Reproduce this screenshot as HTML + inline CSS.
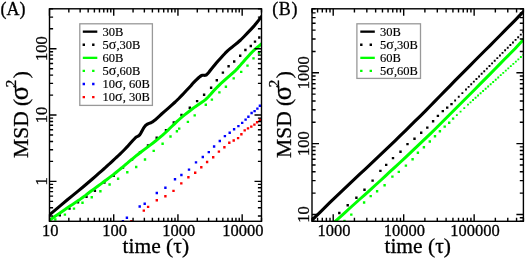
<!DOCTYPE html>
<html><head><meta charset="utf-8"><style>
html,body{margin:0;padding:0;background:#fff;width:525px;height:258px;overflow:hidden;position:relative}
</style></head><body>
<svg width="525" height="258" viewBox="0 0 525 258" style="position:absolute;left:0;top:0;will-change:transform" font-family='"Liberation Serif", serif' fill="#000"><style>text.t{stroke:#000;stroke-width:0.3px}text.l{stroke:#000;stroke-width:0.15px}</style><defs><clipPath id="ca"><rect x="49.5" y="8.8" width="212.0" height="212.5"/></clipPath><clipPath id="cb"><rect x="312.0" y="8.8" width="211.39999999999998" height="212.5"/></clipPath></defs><g clip-path="url(#ca)"><polyline points="40.0,222.6 41.5,221.4 43.6,219.6 46.3,217.4 49.5,214.8 53.3,211.6 57.8,207.9 62.5,203.9 67.4,199.8 72.5,195.6 78.0,191.1 83.3,186.7 88.0,182.8 92.1,179.3 95.7,176.1 99.0,173.2 101.7,170.8 103.8,169.0 105.3,167.7 106.5,166.5 108.0,165.2 109.7,163.7 111.4,162.1 113.2,160.4 115.2,158.5 117.4,156.5 119.7,154.3 122.1,152.0 124.6,149.5 127.3,146.7 130.1,143.5 132.8,140.5 135.0,138.2 136.5,136.9 137.6,136.4 138.6,135.9 139.7,134.8 141.0,132.8 142.4,130.2 143.9,127.6 145.5,125.5 147.2,124.2 149.1,123.4 151.0,122.7 153.0,121.6 155.0,120.1 156.9,118.3 159.1,116.3 161.6,114.0 164.6,111.4 168.1,108.4 171.7,105.2 175.2,102.0 178.8,98.5 182.5,94.7 185.9,91.0 188.8,88.0 190.9,85.8 192.3,84.1 193.6,82.6 195.0,81.2 196.6,79.6 198.3,78.0 199.9,76.6 201.4,75.6 202.7,75.2 203.9,75.3 205.0,75.4 206.2,75.0 207.4,73.9 208.7,72.5 210.0,70.8 211.4,69.0 213.0,67.1 214.7,65.0 216.5,62.8 218.5,60.5 220.6,58.2 222.8,55.7 225.2,53.2 227.8,50.7 230.7,48.2 233.9,45.6 237.2,43.0 240.6,40.0 244.1,36.5 247.8,32.7 251.4,28.9 254.4,25.6 256.7,22.8 258.6,20.4 260.2,18.2 262.0,16.0 264.2,13.7 266.5,11.4 268.6,9.4 270.0,8.0" fill="none" stroke="#000" stroke-width="3.1" stroke-linejoin="round" stroke-linecap="butt"/><path d="M58.60 214.20h2.4v2.4h-2.4zM68.30 207.40h2.4v2.4h-2.4zM76.80 201.10h2.4v2.4h-2.4zM85.30 195.60h2.4v2.4h-2.4zM93.70 189.60h2.4v2.4h-2.4zM103.20 181.40h2.4v2.4h-2.4zM112.50 174.70h2.4v2.4h-2.4zM121.80 166.40h2.4v2.4h-2.4zM130.80 158.40h2.4v2.4h-2.4zM138.80 151.30h2.4v2.4h-2.4zM146.80 144.20h2.4v2.4h-2.4zM155.50 136.50h2.4v2.4h-2.4zM164.80 129.10h2.4v2.4h-2.4zM172.60 121.30h2.4v2.4h-2.4zM180.30 113.70h2.4v2.4h-2.4zM188.60 106.60h2.4v2.4h-2.4zM195.90 99.90h2.4v2.4h-2.4zM202.90 93.50h2.4v2.4h-2.4zM209.90 86.50h2.4v2.4h-2.4zM215.60 79.00h2.4v2.4h-2.4zM221.70 71.40h2.4v2.4h-2.4zM227.40 65.00h2.4v2.4h-2.4zM233.00 60.30h2.4v2.4h-2.4zM239.00 54.50h2.4v2.4h-2.4zM244.20 48.80h2.4v2.4h-2.4zM249.60 44.80h2.4v2.4h-2.4zM253.80 40.40h2.4v2.4h-2.4zM258.10 36.30h2.4v2.4h-2.4z" fill="#000"/><polyline points="40.0,226.8 41.7,225.6 44.1,223.9 46.8,222.0 49.5,220.2 52.1,218.4 54.7,216.6 57.4,214.8 60.0,213.0 62.5,211.2 65.0,209.5 67.5,207.7 70.0,206.0 72.5,204.4 75.0,202.8 77.4,201.1 80.0,199.4 82.6,197.5 85.2,195.6 87.9,193.5 90.8,191.3 94.1,188.9 97.7,186.2 101.3,183.6 104.4,181.3 106.9,179.5 109.0,177.9 111.0,176.4 113.3,174.7 116.0,172.5 118.9,170.1 121.8,167.8 124.3,165.7 126.1,164.1 127.6,162.9 129.0,161.7 130.8,160.2 133.1,158.3 135.7,156.2 138.5,154.0 141.3,151.8 144.2,149.6 147.2,147.4 150.2,145.1 153.0,143.0 155.5,141.0 157.9,139.1 160.2,137.2 162.6,135.2 165.0,133.0 167.5,130.7 169.9,128.3 172.3,126.0 174.6,123.8 176.8,121.7 179.2,119.5 181.8,117.2 184.9,114.7 188.3,112.0 191.8,109.3 195.0,106.9 197.8,105.0 200.4,103.3 202.9,101.6 205.5,99.6 208.2,97.0 210.9,94.1 213.5,91.1 215.9,88.5 218.0,86.4 219.8,84.6 221.6,82.8 223.8,80.8 226.6,78.3 229.8,75.6 232.9,72.8 235.7,70.3 237.8,68.1 239.6,66.1 241.3,64.1 243.2,62.0 245.3,59.6 247.6,57.0 249.9,54.4 252.2,52.0 254.6,49.7 257.2,47.5 259.7,45.4 262.0,43.4 264.3,41.3 266.6,39.2 268.6,37.3 270.0,36.0" fill="none" stroke="#00ff00" stroke-width="3.0" stroke-linejoin="round" stroke-linecap="butt"/><path d="M54.10 218.30h2.4v2.4h-2.4zM63.70 213.40h2.4v2.4h-2.4zM72.80 207.40h2.4v2.4h-2.4zM81.30 201.60h2.4v2.4h-2.4zM90.55 196.10h2.4v2.4h-2.4zM99.20 190.05h2.4v2.4h-2.4zM108.40 183.30h2.4v2.4h-2.4zM116.90 177.50h2.4v2.4h-2.4zM126.10 171.10h2.4v2.4h-2.4zM135.00 165.80h2.4v2.4h-2.4zM143.80 158.30h2.4v2.4h-2.4zM152.50 149.70h2.4v2.4h-2.4zM161.40 142.50h2.4v2.4h-2.4zM169.30 135.30h2.4v2.4h-2.4zM175.70 130.00h2.4v2.4h-2.4zM178.00 127.40h2.4v2.4h-2.4zM186.70 120.70h2.4v2.4h-2.4zM193.50 114.20h2.4v2.4h-2.4zM204.60 103.60h2.4v2.4h-2.4zM210.70 98.40h2.4v2.4h-2.4zM218.20 91.20h2.4v2.4h-2.4zM224.70 85.60h2.4v2.4h-2.4zM232.50 77.20h2.4v2.4h-2.4zM240.00 70.70h2.4v2.4h-2.4zM246.30 64.40h2.4v2.4h-2.4zM252.30 57.20h2.4v2.4h-2.4zM257.80 52.00h2.4v2.4h-2.4z" fill="#00ff00"/><path d="M121.70 220.00h2.4v2.4h-2.4zM125.70 216.60h2.4v2.4h-2.4zM138.50 205.30h2.4v2.4h-2.4zM143.50 202.60h2.4v2.4h-2.4zM155.60 191.80h2.4v2.4h-2.4zM164.20 186.50h2.4v2.4h-2.4zM173.80 178.00h2.4v2.4h-2.4zM180.20 173.80h2.4v2.4h-2.4zM187.80 168.40h2.4v2.4h-2.4zM194.80 161.20h2.4v2.4h-2.4zM201.60 155.80h2.4v2.4h-2.4zM207.60 150.90h2.4v2.4h-2.4zM212.90 145.30h2.4v2.4h-2.4zM218.60 139.80h2.4v2.4h-2.4zM223.70 134.90h2.4v2.4h-2.4zM228.50 131.60h2.4v2.4h-2.4zM232.90 128.10h2.4v2.4h-2.4zM237.20 124.90h2.4v2.4h-2.4zM241.00 121.70h2.4v2.4h-2.4zM244.40 118.40h2.4v2.4h-2.4zM247.20 115.50h2.4v2.4h-2.4zM250.40 111.80h2.4v2.4h-2.4zM253.40 109.90h2.4v2.4h-2.4zM256.20 107.40h2.4v2.4h-2.4zM258.70 104.60h2.4v2.4h-2.4z" fill="#0000ff"/><path d="M130.20 220.00h2.4v2.4h-2.4zM142.60 209.40h2.4v2.4h-2.4zM146.90 205.70h2.4v2.4h-2.4zM155.60 199.10h2.4v2.4h-2.4zM164.20 195.00h2.4v2.4h-2.4zM172.30 189.70h2.4v2.4h-2.4zM180.10 182.20h2.4v2.4h-2.4zM187.20 176.00h2.4v2.4h-2.4zM194.00 171.60h2.4v2.4h-2.4zM200.10 166.00h2.4v2.4h-2.4zM205.90 160.80h2.4v2.4h-2.4zM212.00 156.10h2.4v2.4h-2.4zM217.70 150.40h2.4v2.4h-2.4zM223.20 146.00h2.4v2.4h-2.4zM228.10 141.50h2.4v2.4h-2.4zM232.50 139.30h2.4v2.4h-2.4zM236.90 136.90h2.4v2.4h-2.4zM240.20 133.10h2.4v2.4h-2.4zM243.50 129.20h2.4v2.4h-2.4zM246.80 127.20h2.4v2.4h-2.4zM250.10 125.40h2.4v2.4h-2.4zM253.20 123.40h2.4v2.4h-2.4zM255.90 121.10h2.4v2.4h-2.4zM258.70 118.60h2.4v2.4h-2.4z" fill="#ff0000"/></g><rect x="49.5" y="8.8" width="212.00" height="212.50" fill="none" stroke="#000" stroke-width="1.4"/><path d="M49.50 221.3v-7.0M49.50 8.8v7.0M68.83 221.3v-3.6M68.83 8.8v3.6M80.14 221.3v-3.6M80.14 8.8v3.6M88.17 221.3v-3.6M88.17 8.8v3.6M94.39 221.3v-3.6M94.39 8.8v3.6M99.47 221.3v-3.6M99.47 8.8v3.6M103.77 221.3v-3.6M103.77 8.8v3.6M107.50 221.3v-3.6M107.50 8.8v3.6M110.78 221.3v-3.6M110.78 8.8v3.6M113.72 221.3v-7.0M113.72 8.8v7.0M133.06 221.3v-3.6M133.06 8.8v3.6M144.36 221.3v-3.6M144.36 8.8v3.6M152.39 221.3v-3.6M152.39 8.8v3.6M158.61 221.3v-3.6M158.61 8.8v3.6M163.70 221.3v-3.6M163.70 8.8v3.6M168.00 221.3v-3.6M168.00 8.8v3.6M171.72 221.3v-3.6M171.72 8.8v3.6M175.01 221.3v-3.6M175.01 8.8v3.6M177.94 221.3v-7.0M177.94 8.8v7.0M197.28 221.3v-3.6M197.28 8.8v3.6M208.59 221.3v-3.6M208.59 8.8v3.6M216.61 221.3v-3.6M216.61 8.8v3.6M222.83 221.3v-3.6M222.83 8.8v3.6M227.92 221.3v-3.6M227.92 8.8v3.6M232.22 221.3v-3.6M232.22 8.8v3.6M235.94 221.3v-3.6M235.94 8.8v3.6M239.23 221.3v-3.6M239.23 8.8v3.6M242.17 221.3v-7.0M242.17 8.8v7.0M261.50 221.3v-3.6M261.50 8.8v3.6M49.5 216.05h3.6M261.5 216.05h-3.6M49.5 207.76h3.6M261.5 207.76h-3.6M49.5 201.34h3.6M261.5 201.34h-3.6M49.5 196.08h3.6M261.5 196.08h-3.6M49.5 191.64h3.6M261.5 191.64h-3.6M49.5 187.80h3.6M261.5 187.80h-3.6M49.5 184.41h3.6M261.5 184.41h-3.6M49.5 181.37h7.0M261.5 181.37h-7.0M49.5 161.41h3.6M261.5 161.41h-3.6M49.5 149.73h3.6M261.5 149.73h-3.6M49.5 141.44h3.6M261.5 141.44h-3.6M49.5 135.01h3.6M261.5 135.01h-3.6M49.5 129.76h3.6M261.5 129.76h-3.6M49.5 125.32h3.6M261.5 125.32h-3.6M49.5 121.48h3.6M261.5 121.48h-3.6M49.5 118.08h3.6M261.5 118.08h-3.6M49.5 115.05h7.0M261.5 115.05h-7.0M49.5 95.09h3.6M261.5 95.09h-3.6M49.5 83.41h3.6M261.5 83.41h-3.6M49.5 75.12h3.6M261.5 75.12h-3.6M49.5 68.69h3.6M261.5 68.69h-3.6M49.5 63.44h3.6M261.5 63.44h-3.6M49.5 59.00h3.6M261.5 59.00h-3.6M49.5 55.16h3.6M261.5 55.16h-3.6M49.5 51.76h3.6M261.5 51.76h-3.6M49.5 48.73h7.0M261.5 48.73h-7.0M49.5 28.76h3.6M261.5 28.76h-3.6M49.5 17.09h3.6M261.5 17.09h-3.6M49.5 8.80h3.6M261.5 8.80h-3.6" stroke="#000" stroke-width="1.4" fill="none"/><rect x="79.8" y="23.8" width="72.60" height="81.60" fill="#fff" stroke="#999" stroke-width="1.3"/><rect x="82.8" y="30.50" width="14.5" height="2.3" fill="#000"/><text class="l" x="102.6" y="35.70" font-size="12.5">30B</text><path d="M82.60 43.50h2.4v2.4h-2.4zM92.10 43.50h2.4v2.4h-2.4z" fill="#000"/><text class="l" x="102.6" y="48.80" font-size="12.5">5<tspan font-size="14">σ</tspan>,30B</text><rect x="82.8" y="56.70" width="14.5" height="2.3" fill="#00ff00"/><text class="l" x="102.6" y="61.90" font-size="12.5">60B</text><path d="M82.60 69.70h2.4v2.4h-2.4zM92.10 69.70h2.4v2.4h-2.4z" fill="#00ff00"/><text class="l" x="102.6" y="75.00" font-size="12.5">5<tspan font-size="14">σ</tspan>,60B</text><path d="M82.60 82.80h2.4v2.4h-2.4zM92.10 82.80h2.4v2.4h-2.4z" fill="#0000ff"/><text class="l" x="102.6" y="88.10" font-size="12.5">10<tspan font-size="14">σ</tspan>, 60B</text><path d="M82.60 95.90h2.4v2.4h-2.4zM92.10 95.90h2.4v2.4h-2.4z" fill="#ff0000"/><text class="l" x="102.6" y="101.20" font-size="12.5">10<tspan font-size="14">σ</tspan>, 30B</text><g clip-path="url(#cb)"><polyline points="300.0,231.9 305.0,227.2 310.0,222.2 315.0,217.2 320.0,212.3 325.0,207.4 330.0,202.4 335.0,197.6 340.0,192.9 345.0,188.1 350.0,183.3 355.0,178.6 360.0,173.9 365.0,169.3 370.0,164.7 375.0,159.9 380.0,155.2 385.0,150.4 390.0,145.6 395.0,140.8 400.0,135.9 405.0,131.1 410.0,126.1 415.0,121.2 420.0,116.3 425.0,111.4 430.0,106.2 435.0,101.1 440.0,96.0 445.0,90.9 450.0,85.8 455.0,80.6 460.0,75.6 465.0,70.6 470.0,65.6 475.0,60.5 480.0,55.5 485.0,50.5 490.0,45.6 495.0,40.5 500.0,35.5 505.0,30.4 510.0,25.3 515.0,20.3 520.0,15.1 525.0,10.0 530.0,4.9" fill="none" stroke="#000" stroke-width="3.1" stroke-linejoin="round" stroke-linecap="butt"/><path d="M338.10 211.80h2.4v2.4h-2.4zM346.50 204.00h2.4v2.4h-2.4zM355.20 196.50h2.4v2.4h-2.4zM363.30 188.50h2.4v2.4h-2.4zM371.40 179.40h2.4v2.4h-2.4zM379.20 169.70h2.4v2.4h-2.4zM385.00 163.70h2.4v2.4h-2.4zM391.80 156.90h2.4v2.4h-2.4zM399.30 150.60h2.4v2.4h-2.4zM406.30 142.90h2.4v2.4h-2.4zM413.30 137.50h2.4v2.4h-2.4zM420.00 131.60h2.4v2.4h-2.4zM426.10 126.40h2.4v2.4h-2.4zM431.90 120.00h2.4v2.4h-2.4zM436.70 114.70h2.4v2.4h-2.4zM441.60 109.90h2.4v2.4h-2.4zM446.00 106.40h2.4v2.4h-2.4zM450.30 102.90h2.4v2.4h-2.4z" fill="#000"/><path d="M454.18 99.50h1.9v1.9h-1.9zM457.80 95.85h1.9v1.9h-1.9zM461.43 92.20h1.9v1.9h-1.9zM465.05 88.55h1.9v1.9h-1.9zM467.66 85.94h1.9v1.9h-1.9zM470.27 83.32h1.9v1.9h-1.9zM472.88 80.71h1.9v1.9h-1.9zM475.49 78.10h1.9v1.9h-1.9zM478.10 75.48h1.9v1.9h-1.9zM480.70 72.87h1.9v1.9h-1.9zM483.31 70.25h1.9v1.9h-1.9zM485.92 67.64h1.9v1.9h-1.9zM488.53 65.03h1.9v1.9h-1.9zM491.14 62.41h1.9v1.9h-1.9zM493.75 59.80h1.9v1.9h-1.9zM496.36 57.19h1.9v1.9h-1.9zM498.97 54.57h1.9v1.9h-1.9zM501.58 51.96h1.9v1.9h-1.9zM504.19 49.35h1.9v1.9h-1.9zM506.80 46.73h1.9v1.9h-1.9zM509.40 44.12h1.9v1.9h-1.9zM512.01 41.50h1.9v1.9h-1.9zM514.62 38.89h1.9v1.9h-1.9zM517.23 36.28h1.9v1.9h-1.9zM519.84 33.66h1.9v1.9h-1.9zM522.45 31.05h1.9v1.9h-1.9z" fill="#000"/><polyline points="320.0,235.0 325.0,230.7 330.0,226.2 335.0,221.6 340.0,217.1 345.0,212.6 350.0,208.0 355.0,203.5 360.0,199.0 365.0,194.6 370.0,190.1 375.0,185.5 380.0,181.0 385.0,176.4 390.0,171.7 395.0,167.1 400.0,162.5 405.0,157.8 410.0,153.1 415.0,148.4 420.0,143.7 425.0,138.9 430.0,134.1 435.0,129.2 440.0,124.2 445.0,119.3 450.0,114.3 455.0,109.2 460.0,104.2 465.0,99.2 470.0,94.2 475.0,89.2 480.0,84.1 485.0,79.1 490.0,74.1 495.0,69.0 500.0,63.9 505.0,58.8 510.0,53.8 515.0,48.7 520.0,43.3 525.0,37.9 530.0,32.5" fill="none" stroke="#00ff00" stroke-width="3.0" stroke-linejoin="round" stroke-linecap="butt"/><path d="M343.30 219.80h2.4v2.4h-2.4zM350.10 213.40h2.4v2.4h-2.4zM362.90 201.30h2.4v2.4h-2.4zM369.50 194.90h2.4v2.4h-2.4zM375.90 190.10h2.4v2.4h-2.4zM383.40 184.10h2.4v2.4h-2.4zM391.20 175.40h2.4v2.4h-2.4zM397.60 170.70h2.4v2.4h-2.4zM404.70 164.40h2.4v2.4h-2.4zM411.40 158.10h2.4v2.4h-2.4zM416.70 151.60h2.4v2.4h-2.4zM422.70 146.10h2.4v2.4h-2.4zM428.60 140.30h2.4v2.4h-2.4zM433.80 135.10h2.4v2.4h-2.4zM438.70 130.00h2.4v2.4h-2.4zM443.50 125.40h2.4v2.4h-2.4zM448.00 121.50h2.4v2.4h-2.4zM451.90 117.40h2.4v2.4h-2.4z" fill="#00ff00"/><path d="M455.88 114.15h1.9v1.9h-1.9zM459.60 110.65h1.9v1.9h-1.9zM463.32 107.15h1.9v1.9h-1.9zM467.05 103.65h1.9v1.9h-1.9zM469.57 101.39h1.9v1.9h-1.9zM472.09 99.12h1.9v1.9h-1.9zM474.60 96.86h1.9v1.9h-1.9zM477.12 94.60h1.9v1.9h-1.9zM479.64 92.33h1.9v1.9h-1.9zM482.16 90.07h1.9v1.9h-1.9zM484.68 87.80h1.9v1.9h-1.9zM487.20 85.54h1.9v1.9h-1.9zM489.71 83.28h1.9v1.9h-1.9zM492.23 81.01h1.9v1.9h-1.9zM494.75 78.75h1.9v1.9h-1.9zM497.27 76.49h1.9v1.9h-1.9zM499.79 74.22h1.9v1.9h-1.9zM502.30 71.96h1.9v1.9h-1.9zM504.82 69.70h1.9v1.9h-1.9zM507.34 67.43h1.9v1.9h-1.9zM509.86 65.17h1.9v1.9h-1.9zM512.38 62.90h1.9v1.9h-1.9zM514.90 60.64h1.9v1.9h-1.9zM517.41 58.38h1.9v1.9h-1.9zM519.93 56.11h1.9v1.9h-1.9zM522.45 53.85h1.9v1.9h-1.9z" fill="#00ff00"/></g><rect x="312.0" y="8.8" width="211.40" height="212.50" fill="none" stroke="#000" stroke-width="1.4"/><path d="M312.00 221.3v-3.6M312.00 8.8v3.6M317.58 221.3v-3.6M317.58 8.8v3.6M322.30 221.3v-3.6M322.30 8.8v3.6M326.38 221.3v-3.6M326.38 8.8v3.6M329.99 221.3v-3.6M329.99 8.8v3.6M333.21 221.3v-7.0M333.21 8.8v7.0M354.43 221.3v-3.6M354.43 8.8v3.6M366.83 221.3v-3.6M366.83 8.8v3.6M375.64 221.3v-3.6M375.64 8.8v3.6M382.47 221.3v-3.6M382.47 8.8v3.6M388.05 221.3v-3.6M388.05 8.8v3.6M392.76 221.3v-3.6M392.76 8.8v3.6M396.85 221.3v-3.6M396.85 8.8v3.6M400.45 221.3v-3.6M400.45 8.8v3.6M403.68 221.3v-7.0M403.68 8.8v7.0M424.89 221.3v-3.6M424.89 8.8v3.6M437.30 221.3v-3.6M437.30 8.8v3.6M446.10 221.3v-3.6M446.10 8.8v3.6M452.93 221.3v-3.6M452.93 8.8v3.6M458.51 221.3v-3.6M458.51 8.8v3.6M463.23 221.3v-3.6M463.23 8.8v3.6M467.32 221.3v-3.6M467.32 8.8v3.6M470.92 221.3v-3.6M470.92 8.8v3.6M474.15 221.3v-7.0M474.15 8.8v7.0M495.36 221.3v-3.6M495.36 8.8v3.6M507.77 221.3v-3.6M507.77 8.8v3.6M516.57 221.3v-3.6M516.57 8.8v3.6M523.40 221.3v-3.6M523.40 8.8v3.6M312.0 221.30h3.6M523.4 221.30h-3.6M312.0 217.68h3.6M523.4 217.68h-3.6M312.0 214.44h7.0M523.4 214.44h-7.0M312.0 193.11h3.6M523.4 193.11h-3.6M312.0 180.64h3.6M523.4 180.64h-3.6M312.0 171.79h3.6M523.4 171.79h-3.6M312.0 164.93h3.6M523.4 164.93h-3.6M312.0 159.32h3.6M523.4 159.32h-3.6M312.0 154.57h3.6M523.4 154.57h-3.6M312.0 150.47h3.6M523.4 150.47h-3.6M312.0 146.84h3.6M523.4 146.84h-3.6M312.0 143.60h7.0M523.4 143.60h-7.0M312.0 122.28h3.6M523.4 122.28h-3.6M312.0 109.81h3.6M523.4 109.81h-3.6M312.0 100.96h3.6M523.4 100.96h-3.6M312.0 94.09h3.6M523.4 94.09h-3.6M312.0 88.48h3.6M523.4 88.48h-3.6M312.0 83.74h3.6M523.4 83.74h-3.6M312.0 79.63h3.6M523.4 79.63h-3.6M312.0 76.01h3.6M523.4 76.01h-3.6M312.0 72.77h7.0M523.4 72.77h-7.0M312.0 51.45h3.6M523.4 51.45h-3.6M312.0 38.97h3.6M523.4 38.97h-3.6M312.0 30.12h3.6M523.4 30.12h-3.6M312.0 23.26h3.6M523.4 23.26h-3.6M312.0 17.65h3.6M523.4 17.65h-3.6M312.0 12.91h3.6M523.4 12.91h-3.6M312.0 8.80h3.6M523.4 8.80h-3.6" stroke="#000" stroke-width="1.4" fill="none"/><rect x="356.9" y="23.8" width="63.60" height="54.60" fill="#fff" stroke="#999" stroke-width="1.3"/><rect x="360.3" y="30.50" width="14.5" height="2.3" fill="#000"/><text class="l" x="380.1" y="35.70" font-size="12.5">30B</text><path d="M360.10 43.50h2.4v2.4h-2.4zM369.60 43.50h2.4v2.4h-2.4z" fill="#000"/><text class="l" x="380.1" y="48.80" font-size="12.5">5<tspan font-size="14">σ</tspan>,30B</text><rect x="360.3" y="56.70" width="14.5" height="2.3" fill="#00ff00"/><text class="l" x="380.1" y="61.90" font-size="12.5">60B</text><path d="M360.10 69.70h2.4v2.4h-2.4zM369.60 69.70h2.4v2.4h-2.4z" fill="#00ff00"/><text class="l" x="380.1" y="75.00" font-size="12.5">5<tspan font-size="14">σ</tspan>,60B</text><text class="t" x="50.30" y="236.3" font-size="16.5" text-anchor="middle">10</text><text class="t" x="114.52" y="236.3" font-size="16.5" text-anchor="middle">100</text><text class="t" x="178.74" y="236.3" font-size="16.5" text-anchor="middle">1000</text><text class="t" x="242.97" y="236.3" font-size="16.5" text-anchor="middle">10000</text><text class="t" transform="translate(46.5,181.37) rotate(-90)" font-size="16.5" text-anchor="middle">1</text><text class="t" transform="translate(46.5,115.05) rotate(-90)" font-size="16.5" text-anchor="middle">10</text><text class="t" transform="translate(46.5,48.73) rotate(-90)" font-size="16.5" text-anchor="middle">100</text><text class="t" x="334.01" y="236.3" font-size="16.5" text-anchor="middle">1000</text><text class="t" x="404.48" y="236.3" font-size="16.5" text-anchor="middle">10000</text><text class="t" x="474.95" y="236.3" font-size="16.5" text-anchor="middle">100000</text><text class="t" transform="translate(308.8,214.44) rotate(-90)" font-size="16.5" text-anchor="middle">10</text><text class="t" transform="translate(308.8,143.60) rotate(-90)" font-size="16.5" text-anchor="middle">100</text><text class="t" transform="translate(308.8,72.77) rotate(-90)" font-size="16.5" text-anchor="middle">1000</text><text class="t" x="155.8" y="253.2" font-size="21.5" text-anchor="middle">time (τ)</text><text class="t" x="417.7" y="253.2" font-size="21.5" text-anchor="middle">time (τ)</text><text class="t" transform="translate(28.2,114.5) rotate(-90)" font-size="21.5" text-anchor="middle">MSD (<tspan dx="-1.5" font-size="27">σ</tspan><tspan dx="-1.5" dy="-12" font-size="15">2</tspan><tspan dx="1.5" dy="12">)</tspan></text><text class="t" transform="translate(291.2,114.5) rotate(-90)" font-size="21.5" text-anchor="middle">MSD (<tspan dx="-1.5" font-size="27">σ</tspan><tspan dx="-1.5" dy="-12" font-size="15">2</tspan><tspan dx="1.5" dy="12">)</tspan></text><text class="t" x="0.6" y="14.9" font-size="18">(A)</text><text class="t" x="272.2" y="14.7" font-size="18" letter-spacing="0.6">(B)</text></svg>
</body></html>
